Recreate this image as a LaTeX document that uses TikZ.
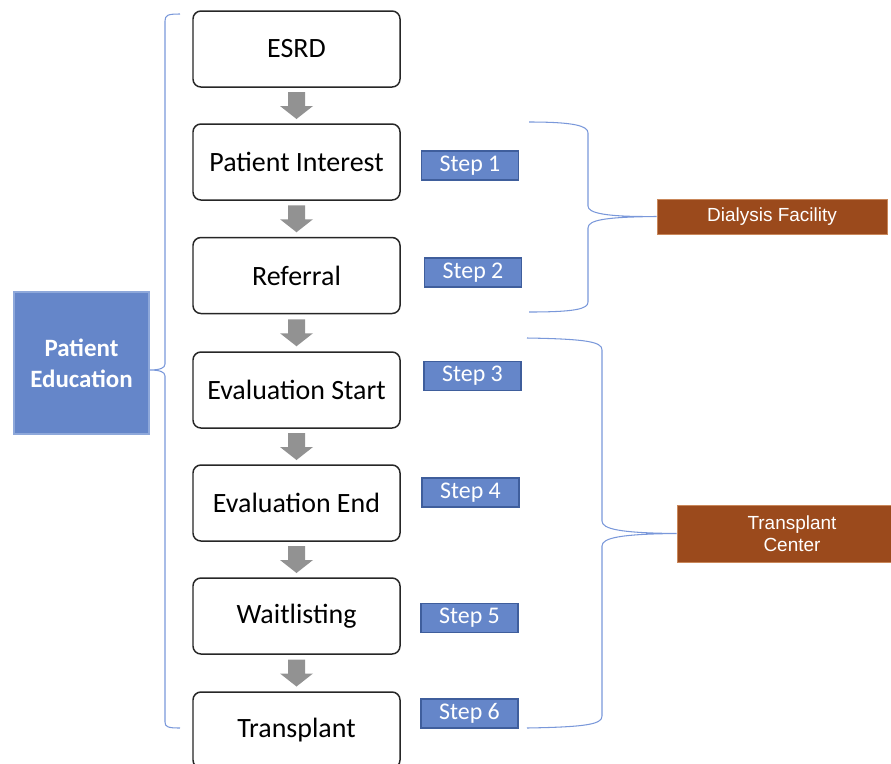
\documentclass[tikz,border=0pt]{standalone}
\usepackage{fontspec}
\setmainfont{Carlito}
\newfontfamily\arialfont{Liberation Sans}
\usetikzlibrary{calc}

\definecolor{stepblue}{HTML}{6586C9}
\definecolor{stepedge}{HTML}{3F5E9C}
\definecolor{eduedge}{HTML}{8EA8DA}
\definecolor{rust}{HTML}{9B4A1C}
\definecolor{rustedge}{HTML}{C9875A}
\definecolor{bracecol}{HTML}{7A98DA}
\definecolor{arrowgray}{HTML}{929292}

\tikzset{
  stage/.style={draw=black!85, line width=0.85pt, rounded corners=4.5pt,
    fill=white, minimum width=4.14cm, minimum height=1.52cm,
    font=\fontsize{15.9}{19}\selectfont},
  steplabel/.style={draw=stepedge, line width=0.7pt, fill=stepblue,
    text=white, minimum width=1.94cm, minimum height=0.58cm, inner sep=0pt,
    font=\fontsize{13.6}{16}\selectfont},
  place/.style={fill=rust, draw=rustedge, line width=0.5pt, text=white,
    minimum width=4.6cm, inner sep=0pt, align=center,
    font=\arialfont\fontsize{10.8}{12.5}\selectfont},
  bracket/.style={draw=bracecol, line width=0.6pt},
  blockarrow/.style={fill=arrowgray}
}

\begin{document}
\begin{tikzpicture}[x=0.2mm, y=-0.2mm]
\useasboundingbox (0, 0) rectangle (891, 764);
\clip (0, 0) rectangle (891, 764);

\node[stage] (esrd)       at (296.5, 49.0)  {ESRD};
\node[stage] (interest)   at (296.5, 162.0) {Patient Interest};
\node[stage] (referral)   at (296.5, 275.5) {Referral};
\node[stage] (evalstart)  at (296.5, 390.0) {Evaluation Start};
\node[stage] (evalend)    at (296.5, 503.0) {Evaluation End};
\node[stage] (waitlist)   at (296.5, 616.0) {Waitlisting};
\node[stage] (transplant) at (296.5, 730.0) {Transplant};

\foreach \a/\b in {esrd/interest, interest/referral, referral/evalstart,
                   evalstart/evalend, evalend/waitlist, waitlist/transplant}
  \fill[blockarrow] ($(\a.south)!0.5!(\b.north)$) ++(-8.5, -13.5)
    -- ++(17, 0) -- ++(0, 14) -- ++(8, 0) -- ++(-16.5, 13)
    -- ++(-16.5, -13) -- ++(8, 0) -- cycle;

\node[steplabel] (step1) at (470.0, 165.5) {Step 1};
\node[steplabel] (step2) at (473.0, 272.5) {Step 2};
\node[steplabel] (step3) at (472.5, 376.0) {Step 3};
\node[steplabel] (step4) at (470.5, 492.5) {Step 4};
\node[steplabel] (step5) at (469.5, 618.0) {Step 5};
\node[steplabel] (step6) at (469.5, 713.5) {Step 6};

\node[draw=eduedge, line width=0.6pt, fill=stepblue, text=white,
      minimum width=2.7cm, minimum height=2.84cm, align=center,
      font=\bfseries\fontsize{14.2}{17.6}\selectfont]
    (education) at (81.5, 363.0) {Patient\\Education};

\node[place, minimum height=0.7cm]  (dialysis) at (772.0, 216.5) {Dialysis Facility};
\node[place, minimum height=1.14cm] (center)   at (792.0, 533.5) {Transplant\\Center};

\draw[bracket]
    (180, 14) .. controls (168, 14) and (165, 15) .. (165, 21) -- (165, 364)
    .. controls (165, 368) and (160, 370) .. (education.east |- 0, 370)
    .. controls (160, 370) and (165, 372) .. (165, 376) -- (165, 722)
    .. controls (165, 727) and (168, 728) .. (180, 728);

\draw[bracket]
    (529, 122) .. controls (575, 122) and (588, 126) .. (588, 133) -- (588, 206)
    .. controls (588, 213) and (605, 217) .. (dialysis.west)
    .. controls (605, 217) and (588, 220) .. (588, 228) -- (588, 302)
    .. controls (588, 309) and (575, 312) .. (529, 312);

\draw[bracket]
    (527, 338) .. controls (588, 339) and (602, 342) .. (602, 350) -- (602, 521)
    .. controls (602, 529) and (620, 533) .. (center.west)
    .. controls (620, 534) and (602, 538) .. (602, 546) -- (602, 716)
    .. controls (602, 724) and (588, 727) .. (527, 728);
\end{tikzpicture}
\end{document}
